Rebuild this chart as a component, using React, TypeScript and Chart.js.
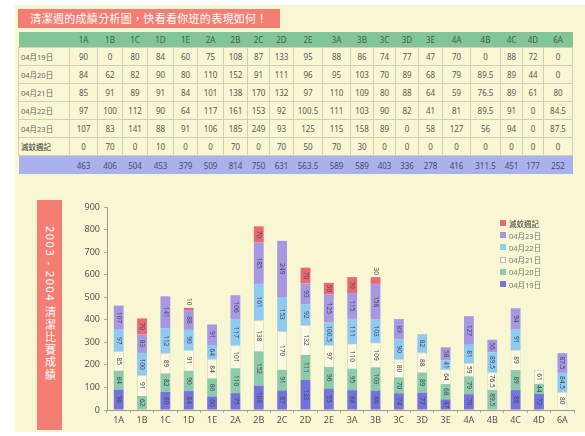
import React, { useEffect, useRef } from "react";
import { Chart, registerables } from "chart.js";

Chart.register(...registerables);

const categories = ["1A","1B","1C","1D","1E","2A","2B","2C","2D","2E","3A","3B","3C","3D","3E","4A","4B","4C","4D","6A"];
const seriesNames = ["04月19日","04月20日","04月21日","04月22日","04月23日","滅蚊週記"];
const d19 = [90,0,80,84,60,75,108,87,133,95,88,86,74,77,47,70,0,88,72,0];
const d20 = [84,62,82,90,80,110,152,91,111,96,95,103,70,89,68,79,89.5,89,44,0];
const d21 = [85,91,89,91,84,101,138,170,132,97,110,109,80,88,64,59,76.5,89,61,80];
const d22 = [97,100,112,90,64,117,161,153,92,100.5,111,103,90,82,41,81,89.5,91,0,84.5];
const d23 = [107,83,141,88,91,106,185,249,93,125,115,158,89,0,58,127,56,94,0,87.5];
const dWeekly = [0,70,0,10,0,0,70,0,70,50,70,30,0,0,0,0,0,0,0,0];
const totals = [463,406,504,453,379,509,814,750,631,563.5,589,589,403,336,278,416,311.5,451,177,252];
const yTicks = [0,100,200,300,400,500,600,700,800,900];

const seriesData = [d19, d20, d21, d22, d23, dWeekly];
const seriesColors = ["#7373dc", "#8ccbac", "#fbf9e2", "#8fcaf2", "#a898e4", "#ea6872"];

const colWidths = [51,28,25,25,26,24,26,24,22,24,29,28,23,22,23,24,28,30,22,21,29];

const PANEL = "#f8f6d3";
const FONT = "'Noto Sans', 'Noto Sans CJK TC', 'DejaVu Sans', sans-serif";

const labelPlugin = {
  id: "segLabels",
  afterDatasetsDraw(chart: any) {
    const ctx = chart.ctx;
    ctx.save();
    ctx.font = `6.5px ${FONT}`;
    ctx.fillStyle = "#4a4a5a";
    ctx.textAlign = "center";
    ctx.textBaseline = "middle";
    chart.data.datasets.forEach((ds: any, di: number) => {
      const meta = chart.getDatasetMeta(di);
      meta.data.forEach((el: any, i: number) => {
        const v = ds.data[i];
        if (!v) return;
        const { x, y, base } = el.getProps(["x", "y", "base"], true);
        let cy = (y + base) / 2;
        if (Math.abs(base - y) < 8) cy = y - 6;
        ctx.save();
        ctx.translate(x, cy);
        ctx.rotate(Math.PI / 2);
        ctx.fillText(String(v), 0, 0);
        ctx.restore();
      });
    });
    ctx.restore();
  },
};

export default function App() {
  const ref = useRef<HTMLCanvasElement | null>(null);

  useEffect(() => {
    document.body.style.margin = "0";
    if (!ref.current) return;
    const chart = new Chart(ref.current, {
      type: "bar",
      data: {
        labels: categories,
        datasets: seriesNames.map((n, i) => ({
          label: n,
          data: seriesData[i],
          backgroundColor: seriesColors[i],
          borderColor: i === 2 ? "#cfcba8" : seriesColors[i],
          borderWidth: i === 2 ? 0.7 : 0,
          barPercentage: 0.42,
          categoryPercentage: 1,
          stack: "s",
        })),
      },
      options: {
        animation: false,
        responsive: false,
        maintainAspectRatio: false,
        layout: { padding: { top: 12, right: 6, left: 0, bottom: 0 } },
        plugins: { legend: { display: false }, tooltip: { enabled: false } },
        scales: {
          x: {
            stacked: true,
            grid: { display: true, drawOnChartArea: false, tickLength: 3, color: "#aaa" },
            border: { color: "#9a9a9a" },
            ticks: { color: "#555", font: { size: 9, family: FONT }, padding: 2 },
            afterFit: (s: any) => { s.height = 26; },
          },
          y: {
            stacked: true,
            min: 0,
            max: 900,
            afterBuildTicks: (s: any) => { s.ticks = yTicks.map((v) => ({ value: v })); },
            grid: { display: true, drawOnChartArea: false, tickLength: 3, color: "#aaa" },
            border: { color: "#9a9a9a" },
            ticks: { color: "#555", font: { size: 9, family: FONT }, padding: 4 },
            afterFit: (s: any) => { s.width = 42; },
          },
        },
      },
      plugins: [labelPlugin],
    });
    return () => chart.destroy();
  }, []);

  const cell: React.CSSProperties = {
    border: "1px solid #d2d0b4",
    padding: 0,
    textAlign: "center",
    height: 17,
    color: "#5a5a5a",
    fontSize: 8,
    whiteSpace: "nowrap",
  };

  const legendOrder = [5, 4, 3, 2, 1, 0];

  return (
    <div style={{ position: "fixed", left: 0, top: 0, width: 585, height: 436, background: "#ffffff", overflow: "hidden", fontFamily: FONT }}>
      <div style={{ position: "absolute", left: 15, top: 5, width: 570, height: 427, background: PANEL }} />
      <div style={{ position: "absolute", left: 18, top: 9, width: 262, height: 19, background: "#f47d74", color: "#fff", fontSize: 11, lineHeight: "19px", textAlign: "center", letterSpacing: 0.3 }}>
        清潔週的成績分析圖，快看看你班的表現如何！
      </div>
      <table style={{ position: "absolute", left: 18, top: 32, borderCollapse: "collapse", tableLayout: "fixed", width: 554 }}>
        <colgroup>
          {colWidths.map((w, i) => <col key={i} style={{ width: w }} />)}
        </colgroup>
        <thead>
          <tr style={{ background: "#83c596" }}>
            <th style={{ ...cell, height: 15, border: "none" }}></th>
            {categories.map((c) => (
              <th key={c} style={{ ...cell, height: 15, border: "none", color: "#3f5f48", fontWeight: "normal" }}>{c}</th>
            ))}
          </tr>
        </thead>
        <tbody>
          {seriesNames.map((n, ri) => (
            <tr key={n}>
              <td style={{ ...cell, textAlign: "left", paddingLeft: 2, fontSize: 7.5, color: ri === 5 ? "#333" : "#666" }}>{n}</td>
              {seriesData[ri].map((v, ci) => (
                <td key={ci} style={cell}>{v}</td>
              ))}
            </tr>
          ))}
          <tr style={{ background: "#aab2ee" }}>
            <td style={{ ...cell, height: 18, border: "none" }}></td>
            {totals.map((v, ci) => (
              <td key={ci} style={{ ...cell, height: 18, border: "none", color: "#4a4a6a" }}>{v}</td>
            ))}
          </tr>
        </tbody>
      </table>
      <div style={{ position: "absolute", left: 37, top: 200, width: 25, height: 230, background: "#f47d74", color: "#fff", fontSize: 11, writingMode: "vertical-rl", display: "flex", alignItems: "center", justifyContent: "flex-start", paddingTop: 26, boxSizing: "border-box", letterSpacing: 1.5 }}>
        2003 - 2004 清潔比賽成績
      </div>
      <canvas ref={ref} width={515} height={241} style={{ position: "absolute", left: 65, top: 195, width: 515, height: 241 }} />
      <div style={{ position: "absolute", left: 500, top: 217 }}>
        {legendOrder.map((i) => (
          <div key={i} style={{ display: "flex", alignItems: "center", height: 12.2, fontSize: 7.5, color: i === 5 ? "#333" : "#777" }}>
            <span style={{ display: "inline-block", width: 6, height: 6, background: seriesColors[i], border: i === 2 ? "0.5px solid #bbb" : "none", marginRight: 3, boxSizing: "border-box" }} />
            {seriesNames[i]}
          </div>
        ))}
      </div>
    </div>
  );
}
